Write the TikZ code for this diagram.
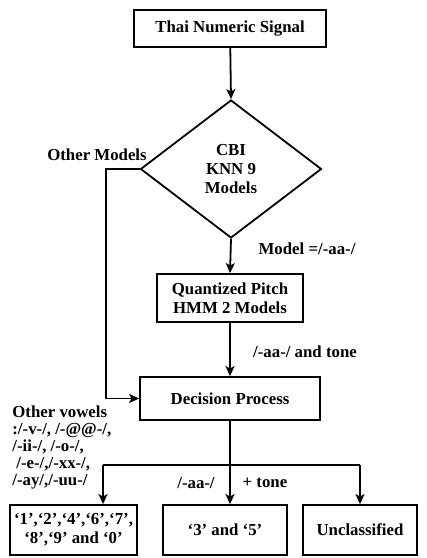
\documentclass[tikz,border=0pt]{standalone}
\usepackage{fontspec}
\setmainfont{Liberation Serif}
\usetikzlibrary{shapes.geometric,arrows.meta}
\begin{document}
\begin{tikzpicture}[x=0.5pt,y=-0.5pt,
  every node/.style={font=\bfseries\fontsize{8.4}{9.6}\selectfont},
  box/.style={draw,line width=0.9pt,inner sep=0pt,align=center},
  lbl/.style={inner sep=0pt},
  arr/.style={line width=0.9pt,-{Stealth[length=5pt,width=4.5pt,inset=1.2pt]}},
  ln/.style={line width=0.9pt}]
\useasboundingbox (0,0) rectangle (427,558);

% main column
\node[box,minimum width=96pt,minimum height=18.5pt] (sig) at (230,28.5) {Thai Numeric Signal};
\node[box,diamond,minimum width=90.5pt,minimum height=69pt] (cbi) at (231,169) {CBI\\KNN 9\\Models};
\node[box,minimum width=73pt,minimum height=24pt] (qp) at (230,298) {Quantized Pitch\\HMM 2 Models};
\node[box,minimum width=90pt,minimum height=21.5pt] (dec) at (230,398.5) {Decision Process};

% outcome boxes
\node[box,minimum width=63.5pt,minimum height=25pt] (b1) at (73.5,530) {`1',`2',`4',`6',`7',\\`8',`9' and `0'};
\node[box,minimum width=62pt,minimum height=25pt] (b2) at (225,530) {`3' and `5'};
\node[box,minimum width=57pt,minimum height=25pt] (b3) at (360,530) {Unclassified};

% connectors
\draw[arr] (sig) -- (cbi.north);
\draw[arr] (cbi.south) -- (qp.north);
\draw[arr] (qp) -- (dec.north);
\coordinate (om) at (106,300);
\draw[arr] (cbi.west) -| (om) |- (dec.west);
\coordinate (sl) at (103,465);
\coordinate (sr) at (360,465);
\draw[ln] (sl) -- (sr);
\draw[arr] (dec.south) -- (dec.south |- b2.north);
\draw[arr] (sl) -- (sl |- b1.north);
\draw[arr] (sr) -- (b3.north);

% labels
\node[lbl] (lom) at (97,155) {Other Models};
\node[lbl] (lmd) at (307,249) {Model =/-aa-/};
\node[lbl] (lat) at (305,352) {/-aa-/ and tone};
\node[lbl] (laa) at (196,483) {/-aa-/};
\node[lbl] (ltn) at (265,483) {+ tone};
\node[lbl,anchor=north west,align=left,font=\bfseries\fontsize{8.4}{8.5}\selectfont] (lov) at (12,405)
  {Other vowels\\:/-v-/, /-@@-/,\\/-ii-/, /-o-/,\\\hspace*{2pt}/-e-/,/-xx-/,\\/-ay/,/-uu-/};
\end{tikzpicture}
\end{document}
